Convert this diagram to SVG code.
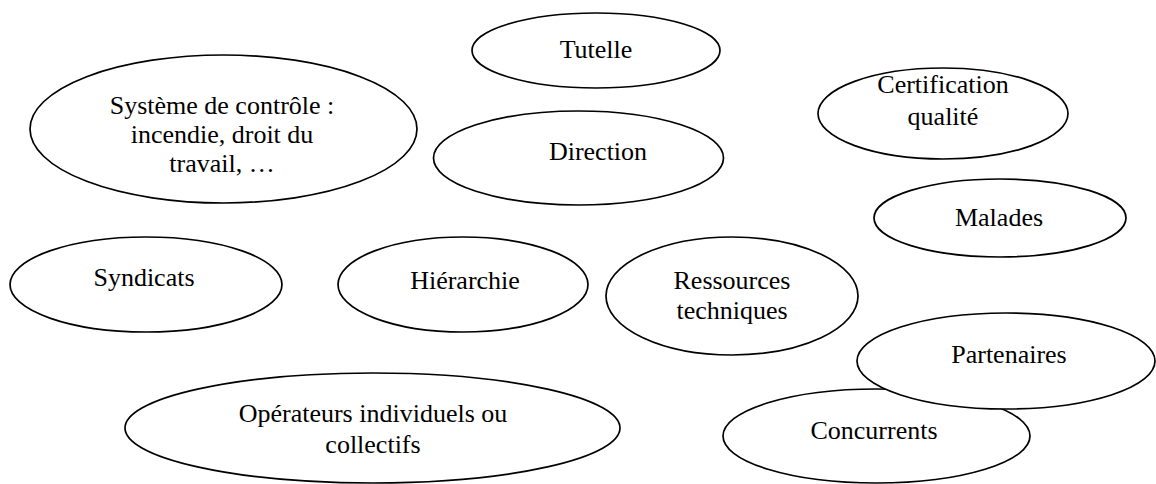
<svg xmlns="http://www.w3.org/2000/svg" width="1156" height="484" viewBox="0 0 1156 484">
<style>
.n ellipse{fill:#fff;stroke:#000;stroke-width:1.7}
.n text{font-family:'Liberation Serif','DejaVu Serif','Times New Roman',serif;font-size:26px;fill:#000;text-anchor:middle}
</style>
<rect width="1156" height="484" fill="#fff"/>
<g id="connectors"></g>
<g id="tutelle" class="n"><ellipse cx="596" cy="50.5" rx="124" ry="37.5"/><text x="596" y="58">Tutelle</text></g>
<g id="systeme" class="n"><ellipse cx="223.5" cy="129" rx="193.5" ry="74"/><text x="222" y="114">Système de contrôle :</text><text x="222" y="143">incendie, droit du</text><text x="222" y="172">travail, …</text></g>
<g id="direction" class="n"><ellipse cx="578.5" cy="158" rx="145" ry="47"/><text x="598" y="160">Direction</text></g>
<g id="certification" class="n"><ellipse cx="943" cy="113.5" rx="125" ry="45.5"/><text x="943" y="93">Certification</text><text x="943" y="125">qualité</text></g>
<g id="malades" class="n"><ellipse cx="1000" cy="218" rx="126" ry="39"/><text x="999" y="226">Malades</text></g>
<g id="syndicats" class="n"><ellipse cx="146" cy="284.5" rx="136" ry="47.5"/><text x="144" y="286">Syndicats</text></g>
<g id="hierarchie" class="n"><ellipse cx="463" cy="284.5" rx="125" ry="47.5"/><text x="465" y="289">Hiérarchie</text></g>
<g id="ressources" class="n"><ellipse cx="732" cy="296" rx="126" ry="59"/><text x="732" y="289">Ressources</text><text x="732" y="319">techniques</text></g>
<g id="operateurs" class="n"><ellipse cx="372.5" cy="428" rx="247.5" ry="55"/><text x="373" y="422">Opérateurs individuels ou</text><text x="373" y="453">collectifs</text></g>
<g id="concurrents" class="n"><ellipse cx="876.5" cy="436" rx="153.5" ry="47"/><text x="874" y="439">Concurrents</text></g>
<g id="partenaires" class="n"><ellipse cx="1006" cy="361" rx="149" ry="48"/><text x="1009" y="363">Partenaires</text></g>
</svg>
